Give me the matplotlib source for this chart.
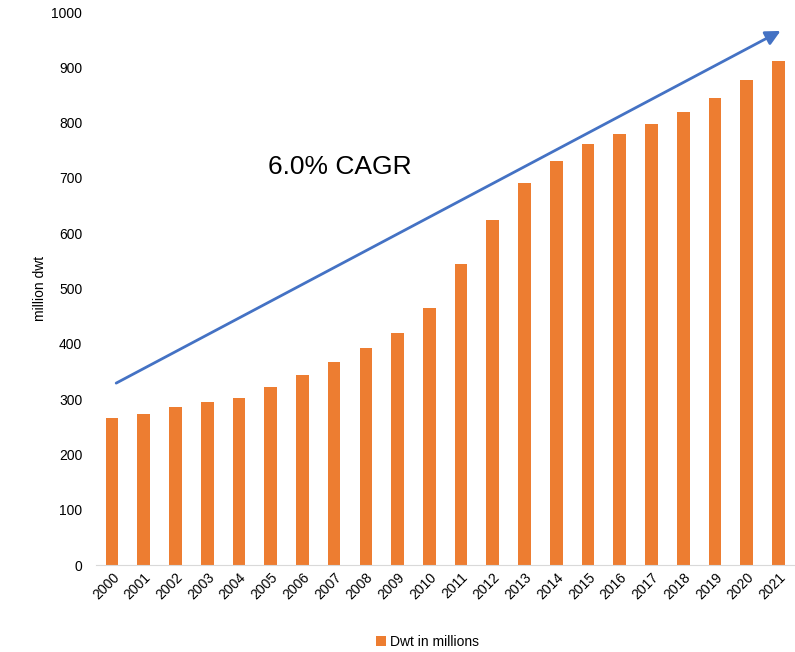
import matplotlib
matplotlib.use('Agg')
from matplotlib import pyplot as plt

plt.rcParams['font.family'] = ['Liberation Sans', 'DejaVu Sans']

years = [str(y) for y in range(2000, 2022)]
dwt = [266, 274, 286, 294, 302, 322, 344, 367, 392, 420, 465, 544,
       624, 691, 731, 762, 780, 797, 820, 844, 878, 911]

# trend arrow endpoints (bar index, value)
arrow_start = (0.13, 329)
arrow_end = (21.07, 966)

fig = plt.figure(figsize=(7.95, 6.52), dpi=100)
ax = fig.add_axes([0.121, 0.1334, 0.878, 0.848])

x = list(range(len(years)))
ax.bar(x, dwt, width=0.4, color='#ED7D31', label='Dwt in millions', zorder=2)

ax.annotate('', xy=arrow_end, xytext=arrow_start,
            arrowprops=dict(arrowstyle='-|>', color='#4472C4', lw=2,
                            mutation_scale=22, shrinkA=0, shrinkB=0))
ax.text(7.17, 720, '6.0% CAGR', fontsize=19, ha='center', va='center')

ax.set_xlim(-0.5, len(years) - 0.5)
ax.set_ylim(0, 1000)
ax.set_yticks(range(0, 1001, 100))
ax.set_xticks(x)
ax.set_xticklabels(years, rotation=45, ha='right', rotation_mode='anchor', fontsize=10)
ax.tick_params(axis='y', labelsize=10, length=0, pad=10)
ax.tick_params(axis='x', length=0, pad=4)
ax.set_ylabel('million dwt', fontsize=10, labelpad=3)

for s in ['top', 'right', 'left']:
    ax.spines[s].set_visible(False)
ax.spines['bottom'].set_color('#D9D9D9')

fig.legend(loc='center', bbox_to_anchor=(0.538, 0.016), frameon=False,
           fontsize=10, handlelength=0.7, handleheight=0.7, handletextpad=0.3)

plt.savefig('out.png', dpi=100)
